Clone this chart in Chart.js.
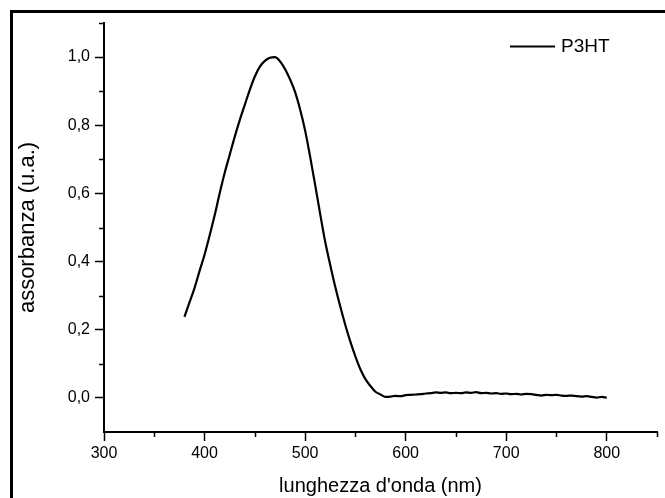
<!DOCTYPE html>
<html>
<head>
<meta charset="utf-8">
<script src="https://cdn.jsdelivr.net/npm/chart.js@4/dist/chart.umd.min.js"></script>
<style>
  html, body { margin: 0; padding: 0; background: #fff; overflow: hidden; }
  #frame { position: absolute; left: 10px; top: 10px; width: 700px; height: 600px;
           border-left: 3px solid #000; border-top: 3px solid #000; }
  #absChart { position: absolute; left: 0; top: 0; }
</style>
</head>
<body>
<div id="frame"></div>
<canvas id="absChart" width="665" height="498"></canvas>
<script>
// wavelengths (nm) and absorbance
const wavelengths = [
  380, 385, 390, 395, 400, 405, 410, 415, 420, 425, 430, 435, 440, 445, 450, 455,
  460, 465, 470, 475, 480, 485, 490, 495, 500, 505, 510, 515, 520, 525, 530, 535,
  540, 545, 550, 555, 560, 565, 570, 575, 580, 585, 590, 595, 600, 605, 610, 615,
  620, 625, 630, 635, 640, 645, 650, 655, 660, 665, 670, 675, 680, 685, 690, 695,
  700, 705, 710, 715, 720, 725, 730, 735, 740, 745, 750, 755, 760, 765, 770, 775,
  780, 785, 790, 795, 800
];
const absorbance = [
  0.238, 0.280, 0.322, 0.372, 0.420, 0.476, 0.535, 0.600, 0.660, 0.713, 0.766, 0.815, 0.860, 0.904, 0.943, 0.972,
  0.989, 0.998, 1.000, 0.988, 0.965, 0.935, 0.898, 0.847, 0.785, 0.708, 0.625, 0.540, 0.458, 0.390, 0.326, 0.268,
  0.214, 0.165, 0.122, 0.084, 0.055, 0.035, 0.018, 0.010, 0.003, 0.004, 0.006, 0.005, 0.008, 0.009, 0.010, 0.011,
  0.013, 0.014, 0.016, 0.015, 0.016, 0.014, 0.015, 0.014, 0.016, 0.015, 0.017, 0.014, 0.015, 0.013, 0.014, 0.012,
  0.013, 0.011, 0.012, 0.010, 0.012, 0.011, 0.009, 0.007, 0.009, 0.008, 0.009, 0.007, 0.006, 0.007, 0.005, 0.004,
  0.005, 0.003, 0.001, 0.003, 0.001
];
const seriesName = 'P3HT';

// axis ticks
const xMajor = [300, 400, 500, 600, 700, 800];
const xMinor = [350, 450, 550, 650, 750, 850];
const yMajor = [0, 0.2, 0.4, 0.6, 0.8, 1.0];
const yMinor = [0.1, 0.3, 0.5, 0.7, 0.9, 1.1];

const FONT = '"Liberation Sans", Arial, sans-serif';

// short ticks between the labelled ones
const minorTicks = {
    id: 'minorTicks',
    afterDraw(chart) {
        const { ctx, scales: { x, y } } = chart;
        ctx.save();
        ctx.strokeStyle = '#000';
        ctx.lineWidth = 1.5;
        ctx.beginPath();
        yMinor.forEach(v => {
            const py = Math.round(y.getPixelForValue(v)) + 0.5;
            ctx.moveTo(y.right - 5, py);
            ctx.lineTo(y.right, py);
        });
        xMinor.forEach(v => {
            const px = Math.round(x.getPixelForValue(v)) + 0.5;
            ctx.moveTo(px, x.top);
            ctx.lineTo(px, x.top + 5);
        });
        ctx.stroke();
        ctx.restore();
    }
};

// legend sitting inside the plot, top right
const insideLegend = {
    id: 'insideLegend',
    afterDraw(chart) {
        const { ctx } = chart;
        const ds = chart.data.datasets[0];
        ctx.save();
        ctx.strokeStyle = ds.borderColor;
        ctx.lineWidth = 2;
        ctx.beginPath();
        ctx.moveTo(510, 46.5);
        ctx.lineTo(555, 46.5);
        ctx.stroke();
        ctx.fillStyle = '#000';
        ctx.font = '19px ' + FONT;
        ctx.textBaseline = 'middle';
        ctx.textAlign = 'left';
        ctx.fillText(ds.label, 561, 47);
        ctx.restore();
    }
};

const ctx = document.getElementById('absChart').getContext('2d');
new Chart(ctx, {
    type: 'line',
    data: {
        datasets: [{
            label: seriesName,
            data: wavelengths.map((w, i) => ({ x: w, y: absorbance[i] })),
            borderColor: '#000',
            borderWidth: 2.2,
            pointRadius: 0,
            cubicInterpolationMode: 'monotone',
            fill: false
        }]
    },
    options: {
        responsive: false,
        animation: false,
        devicePixelRatio: 1,
        layout: { padding: { top: 23, right: 8, left: 0, bottom: 0 } },
        plugins: {
            legend: { display: false },
            tooltip: { enabled: false }
        },
        scales: {
            x: {
                type: 'linear',
                min: 300,
                max: 850,
                afterBuildTicks: scale => { scale.ticks = xMajor.map(v => ({ value: v })); },
                afterFit: scale => { scale.height = 66; },
                border: { display: true, color: '#000', width: 2 },
                grid: { drawOnChartArea: false, drawTicks: true, tickLength: 9, tickWidth: 1.5, tickColor: '#000' },
                ticks: { color: '#000', font: { family: FONT, size: 16 }, padding: 3, maxRotation: 0 },
                title: {
                    display: true,
                    text: "lunghezza d'onda (nm)",
                    color: '#000',
                    font: { family: FONT, size: 20 },
                    padding: { top: 0, bottom: 0 }
                }
            },
            y: {
                type: 'linear',
                min: -0.1,
                max: 1.1,
                afterBuildTicks: scale => { scale.ticks = yMajor.map(v => ({ value: v })); },
                afterFit: scale => { scale.width = 104; },
                border: { display: true, color: '#000', width: 2 },
                grid: { drawOnChartArea: false, drawTicks: true, tickLength: 9, tickWidth: 1.5, tickColor: '#000' },
                ticks: {
                    color: '#000',
                    font: { family: FONT, size: 16 },
                    padding: 5,
                    callback: value => value.toFixed(1).replace('.', ',')
                },
                title: {
                    display: true,
                    text: 'assorbanza (u.a.)',
                    color: '#000',
                    font: { family: FONT, size: 22 },
                    padding: { top: 15, bottom: 0 }
                }
            }
        }
    },
    plugins: [minorTicks, insideLegend]
});
</script>
</body>
</html>
